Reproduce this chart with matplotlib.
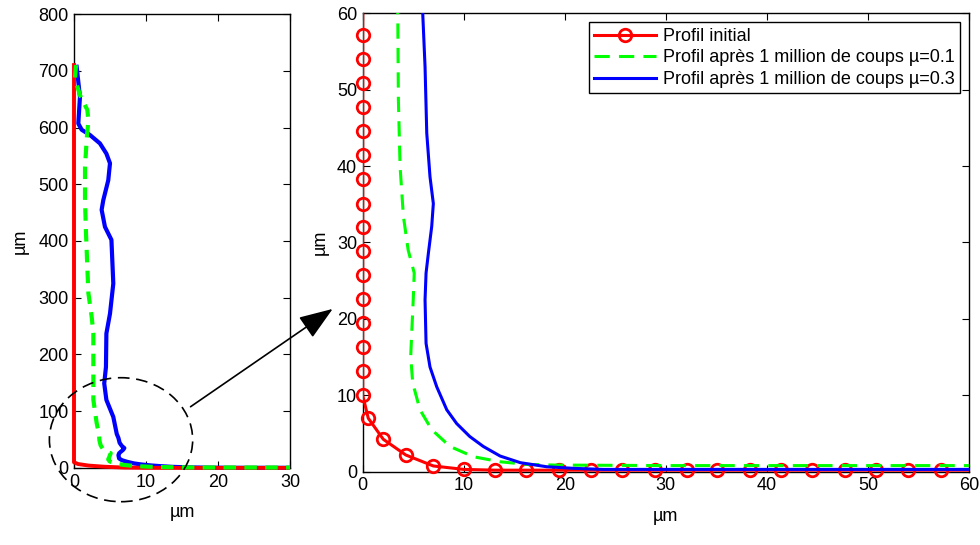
import matplotlib
matplotlib.use('Agg')
import matplotlib.pyplot as plt
from matplotlib.patches import Ellipse, FancyArrowPatch
from matplotlib.transforms import Bbox, TransformedBbox

plt.rcParams['font.family'] = ['Liberation Sans', 'DejaVu Sans']
plt.rcParams['font.size'] = 13

# Profil initial (points repérés sur le zoom)
red_x = [0, 0, 0, 0, 0, 0, 0, 0, 0, 0, 0, 0, 0, 0, 0, 0, 0,
         0.55, 2.04, 4.26, 6.99, 10.0, 13.1, 16.2, 19.4, 22.6, 25.7,
         28.9, 32.1, 35.1, 38.3, 41.4, 44.5, 47.7, 50.8, 54.0, 57.2, 60.0]
red_y = [710, 57.2, 54.0, 50.9, 47.7, 44.6, 41.4, 38.3, 35.1, 32.0, 28.9,
         25.7, 22.6, 19.5, 16.3, 13.2, 10.0,
         7.0, 4.24, 2.19, 0.75, 0.3, 0.2, 0.2, 0.2, 0.2, 0.2,
         0.2, 0.2, 0.2, 0.2, 0.2, 0.2, 0.2, 0.2, 0.2, 0.2, 0.2]

# Profil après 1 million de coups, mu=0.1
green_x = [0.28, 0.14, 0.83, 1.85, 2.0, 1.76, 1.53, 1.53, 1.67, 1.85, 2.0,
           2.45, 2.69, 2.69, 2.69, 3.15,
           3.47, 3.53, 3.7, 4.03, 4.5, 5.1, 5.0, 4.85, 4.75, 4.95, 5.67,
           6.83, 8.64, 10.95, 13.6, 16.2, 18.9, 30, 60]
green_y = [710, 686, 657, 631, 613, 578, 531, 472, 413, 355, 308,
           267, 237, 178, 120, 79,
           60, 48.7, 39.9, 33.4, 29.0, 26.0, 22.5, 18.1, 15.1, 11.6, 8.1,
           5.5, 3.3, 1.96, 1.3, 0.96, 0.87, 0.8, 0.8]

# Profil après 1 million de coups, mu=0.3
blue_x = [0.37, 0.83, 0.6, 1.07, 2.2, 3.6, 4.5, 5.0, 4.76, 4.07, 3.84, 4.3,
          5.2, 5.46, 5.0, 4.5, 4.44, 4.2, 4.5, 5.46, 5.94,
          6.17, 6.34, 6.66, 6.99, 6.83, 6.5, 6.27, 6.17, 6.27, 6.66, 7.33,
          8.32, 9.3, 10.6, 11.94, 13.6, 15.6, 18.2, 20.85, 23.8, 60]
blue_y = [707, 654, 607, 596, 587, 572, 554, 537, 507, 472, 455, 425,
          402, 325, 272, 237, 178, 149, 120, 90, 60,
          53.0, 44.3, 38.6, 35.1, 32.1, 28.6, 26.0, 22.5, 16.8, 13.7, 11.1,
          8.1, 6.3, 4.6, 3.3, 2.05, 1.18, 0.65, 0.44, 0.3, 0.3]

labels = ['Profil initial',
          'Profil après 1 million de coups µ=0.1',
          'Profil après 1 million de coups µ=0.3']

fig = plt.figure(figsize=(9.8, 5.45), dpi=100)
ax1 = fig.add_axes([0.0755, 0.1413, 0.2204, 0.833])
ax2 = fig.add_axes([0.3701, 0.1345, 0.6187, 0.8411])

# vue d'ensemble : on laisse déborder un peu à gauche / en bas pour que
# les traits posés sur les axes restent entiers
clip1 = TransformedBbox(Bbox([[-0.03, -0.02], [1.0, 1.0]]), ax1.transAxes)
l3 = ax1.plot(blue_x, blue_y, color='blue', lw=3, zorder=3)
l1 = ax1.plot(red_x, red_y, color='red', lw=2.8, zorder=3.1)
l2 = ax1.plot(green_x, green_y, color='lime', lw=3, dashes=(3, 2), zorder=3.2)
for ln in l1 + l2 + l3:
    ln.set_clip_box(clip1)
ax1.set_xlim(0, 30)
ax1.set_ylim(0, 800)
ax1.set_xticks([0, 10, 20, 30])
ax1.set_yticks(range(0, 801, 100))
ax1.set_xlabel('µm', labelpad=10)
ax1.set_ylabel('µm', labelpad=7)

# zoom
marks = list(range(1, len(red_x) - 1))
ax2.plot(red_x, red_y, color='red', lw=2.2, zorder=3)
ax2.plot(red_x, red_y, color='red', ls='none', marker='o', markersize=9,
         markerfacecolor='none', markeredgewidth=2, markevery=marks,
         clip_on=False, zorder=3)
ax2.plot(green_x, green_y, color='lime', lw=2.2, dashes=(5, 3), zorder=3)
ax2.plot(blue_x, blue_y, color='blue', lw=2.2, zorder=3)
ax2.set_xlim(0, 60)
ax2.set_ylim(0, 60)
ax2.set_xticks(range(0, 61, 10))
ax2.set_yticks(range(0, 61, 10))
ax2.set_xlabel('µm', labelpad=10)
ax2.set_ylabel('µm', labelpad=6)

h_red = plt.Line2D([], [], color='red', lw=2.2, marker='o', markersize=9,
                   markerfacecolor='none', markeredgewidth=2)
h_green = plt.Line2D([], [], color='lime', lw=2.2, dashes=(5, 3))
h_blue = plt.Line2D([], [], color='blue', lw=2.2)
leg = ax2.legend([h_red, h_green, h_blue], labels, loc='upper right',
                 bbox_to_anchor=(0.985, 0.98),
                 fancybox=False, edgecolor='black', framealpha=1,
                 handlelength=3.4, borderaxespad=0, borderpad=0.3,
                 labelspacing=0.25, handletextpad=0.4)
leg.get_frame().set_linewidth(1)

for ax in (ax1, ax2):
    ax.tick_params(direction='in', top=True, right=True, length=5,
                   labelsize=13, pad=4)
    for s in ax.spines.values():
        s.set_linewidth(1)

# cercle en pointillés et flèche vers le zoom
fig.patches.append(Ellipse((0.1235, 0.1932), 0.1462, 0.2275,
                           transform=fig.transFigure, fill=False,
                           ls=(0, (7, 4)), lw=1.2, color='black', zorder=5))
fig.patches.append(FancyArrowPatch((0.1921, 0.2508), (0.3418, 0.4361),
                                   transform=fig.transFigure,
                                   arrowstyle='-|>,head_length=1.5,head_width=0.55',
                                   mutation_scale=14, color='black', lw=1.2))

fig.savefig('out.png', dpi=100)
